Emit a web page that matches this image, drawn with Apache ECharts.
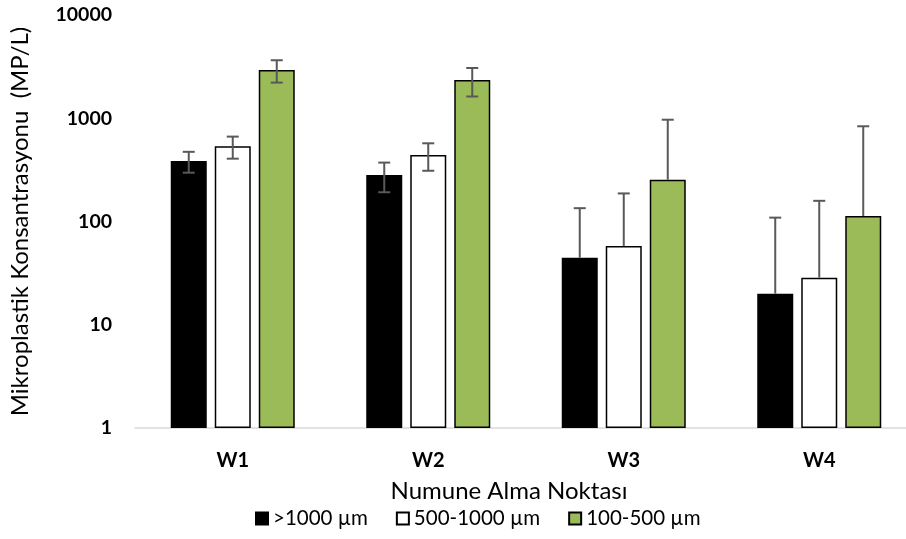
<!DOCTYPE html>
<html><head><meta charset="utf-8">
<script src="https://cdn.jsdelivr.net/npm/echarts@6/dist/echarts.min.js"></script>
<style>html,body{margin:0;padding:0;background:#fff;overflow:hidden;width:906px;height:539px}#c{width:930px;height:539px}</style>
</head><body><div id="c"></div>
<script>
const categories = ['W1', 'W2', 'W3', 'W4'];
const seriesNames = ['>1000 µm', '500-1000 µm', '100-500 µm'];
const valBlack = [385, 282, 44.6, 20];
const valWhite = [535, 441, 58, 28.6];
const valGreen = [2930, 2346, 254, 113];
const errBlack = [88, 90, 90, 89];
const errWhite = [129, 131, 129, 130];
const errGreen = [715, 722, 714, 723];
const xTitle = 'Numune Alma Noktası';
const yTitle = 'Mikroplastik Konsantrasyonu  (MP/L)';

const FONT = 'Lato';
const BAR_W = 36, BAR_GAP = 8;
const fills = ['#000000', '#ffffff', '#9bbb59'];
const vals = [valBlack, valWhite, valGreen];
const errs = [errBlack, errWhite, errGreen];

const barSeries = seriesNames.map((n, i) => ({
  name: n, type: 'bar', barWidth: BAR_W, barGap: (BAR_GAP / BAR_W * 100) + '%',
  itemStyle: { color: fills[i], borderColor: '#000', borderWidth: 1.5 },
  data: vals[i], z: 2
}));

const errSeries = seriesNames.map((n, i) => ({
  type: 'custom', z: 5, silent: true,
  encode: { x: 0, y: 1 },
  data: categories.map((c, k) => [k, vals[i][k], errs[i][k]]),
  renderItem: function (params, api) {
    const off = (i - 1) * (BAR_W + BAR_GAP);
    const ci = api.value(0), v = api.value(1), e = api.value(2);
    const x = api.coord([ci, v])[0] + off;
    const yv = api.coord([ci, v])[1];
    const yt = api.coord([ci, v + e])[1];
    const st = { stroke: '#595959', lineWidth: 2 };
    const ch = [
      { type: 'line', shape: { x1: x, y1: yv, x2: x, y2: yt }, style: st },
      { type: 'line', shape: { x1: x - 6, y1: yt, x2: x + 6, y2: yt }, style: st }
    ];
    if (v - e > 0) {
      const yl = api.coord([ci, v - e])[1];
      ch.push({ type: 'line', shape: { x1: x, y1: yv, x2: x, y2: yl }, style: st });
      ch.push({ type: 'line', shape: { x1: x - 6, y1: yl, x2: x + 6, y2: yl }, style: st });
    }
    return { type: 'group', children: ch };
  }
}));

const chart = echarts.init(document.getElementById('c'));
chart.setOption({
  animation: false,
  backgroundColor: '#fff',
  textStyle: { fontFamily: FONT },
  grid: { left: 125, top: 15, width: 792, bottom: 111 },
  xAxis: {
    type: 'category', data: categories,
    axisLine: { lineStyle: { color: '#d9d9d9', width: 1.5 } },
    axisTick: { show: false },
    axisLabel: { color: '#000', fontWeight: 'bold', fontSize: 20, margin: 23, fontFamily: FONT }
  },
  yAxis: {
    type: 'log', logBase: 10, min: 1, max: 10000, splitNumber: 4,
    axisLine: { show: false }, axisTick: { show: false }, splitLine: { show: false },
    axisLabel: { color: '#000', fontWeight: 'bold', fontSize: 19.5, margin: 23, fontFamily: FONT,
      formatter: v => String(Math.round(v)) },
    name: yTitle, nameLocation: 'middle', nameGap: 103,
    nameTextStyle: { color: '#000', fontSize: 24, fontFamily: FONT }
  },
  legend: {
    data: seriesNames, bottom: 5, left: 250, icon: 'rect', itemWidth: 12, itemHeight: 12, itemGap: 28,
    textStyle: { color: '#000', fontSize: 20.5, fontFamily: FONT }
  },
  graphic: [{
    type: 'text', x: 509, y: 491,
    style: { text: xTitle, fill: '#000', fontSize: 24, fontFamily: FONT, align: 'center', verticalAlign: 'middle' }
  }],
  series: barSeries.concat(errSeries)
});
</script></body></html>
